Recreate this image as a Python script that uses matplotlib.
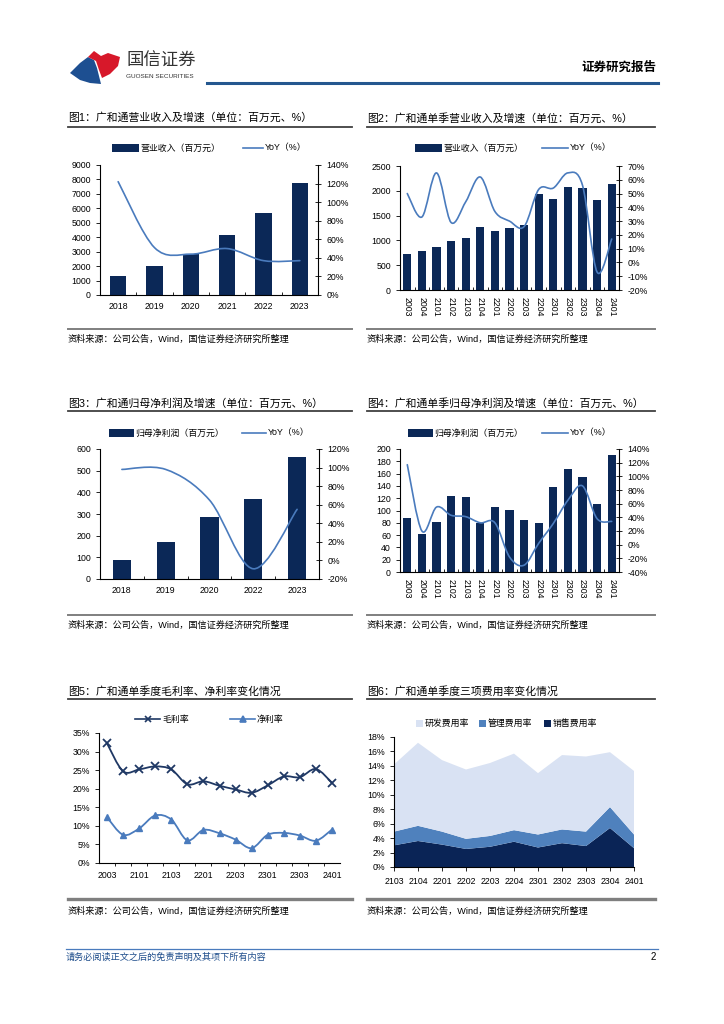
import numpy as np
import matplotlib
matplotlib.use('Agg')
import matplotlib.pyplot as plt
from matplotlib.path import Path
from matplotlib.patches import PathPatch, Rectangle, Polygon
from matplotlib.lines import Line2D

plt.rcParams['font.family'] = ['Liberation Sans', 'Noto Sans CJK SC', 'DejaVu Sans']
plt.rcParams['axes.linewidth'] = 0.8

# ---- data ----
years1 = ['2018', '2019', '2020', '2021', '2022', '2023']
revenue = [1300, 1980, 2820, 4180, 5700, 7780]
revenue_yoy = [122, 51, 44, 50, 37, 37]

quarters = ['2003', '2004', '2101', '2102', '2103', '2104', '2201', '2202',
            '2203', '2204', '2301', '2302', '2303', '2304', '2401']
q_revenue = [720, 790, 870, 980, 1040, 1280, 1190, 1250, 1320, 1940, 1840,
             2070, 2060, 1820, 2140]
q_revenue_yoy = [50, 33, 65, 29, 44, 62, 37, 30, 26, 53, 54, 65, 56, -7, 17]

years3 = ['2018', '2019', '2020', '2022', '2023']
profit = [88, 172, 287, 368, 565]
profit_yoy = [98, 98, 65, -9, 55]

q_profit = [88, 61, 82, 124, 122, 80, 106, 101, 84, 80, 138, 167, 154, 110, 190]
q_profit_yoy = [117, 20, 55, 43, 41, 32, 32, -18, -30, 2, 31, 65, 86, 38, 34]

gross_margin = [32.2, 24.7, 25.2, 26.0, 25.2, 21.2, 22.0, 20.8, 19.8, 18.9,
                20.9, 23.3, 23.1, 25.3, 21.6]
net_margin = [12.3, 7.6, 9.3, 12.8, 11.7, 6.1, 8.9, 8.0, 6.3, 4.0, 7.6, 8.1,
              7.4, 6.0, 9.0]

q6 = ['2103', '2104', '2201', '2202', '2203', '2204', '2301', '2302', '2303',
      '2304', '2401']
sales_rate = [3.0, 3.6, 3.1, 2.5, 2.8, 3.5, 2.7, 3.3, 2.9, 5.4, 2.6]
admin_rate = [1.9, 2.1, 1.8, 1.4, 1.5, 1.6, 1.8, 1.9, 2.0, 2.9, 1.9]
rd_rate = [9.3, 11.5, 9.9, 9.6, 10.1, 10.6, 8.5, 10.3, 10.4, 7.6, 8.8]

BAR = '#0b2857'
LINE = '#4a7bbd'
LIGHT = '#d9e2f3'

W, H = 724, 1024
fig = plt.figure(figsize=(W / 100, H / 100), dpi=100)


def fx(px):
    return px / W


def fy(py):
    return 1 - py / H


def axes_at(l, t, r, b):
    return fig.add_axes([fx(l), fy(b), fx(r - l), (b - t) / H])


def hline(x0, x1, y, color, lw):
    fig.add_artist(Line2D([fx(x0), fx(x1)], [fy(y), fy(y)], color=color, lw=lw))


def smooth_path(xs, ys):
    pts = np.column_stack([xs, ys]).astype(float)
    n = len(pts)
    verts = [pts[0]]
    codes = [Path.MOVETO]
    for i in range(n - 1):
        p0 = pts[i - 1] if i > 0 else pts[i]
        p1, p2 = pts[i], pts[i + 1]
        p3 = pts[i + 2] if i + 2 < n else pts[i + 1]
        verts += [p1 + (p2 - p0) / 6, p2 - (p3 - p1) / 6, p2]
        codes += [Path.CURVE4] * 3
    return Path(verts, codes)


def smooth_line(ax, xs, ys, color, lw=1.2):
    ax.add_patch(PathPatch(smooth_path(xs, ys), fill=False, edgecolor=color,
                           lw=lw, capstyle='round', joinstyle='round'))


def panel_frame(x0, x1, title, ty, uy, by, sy, thick=False):
    fig.text(fx(x0), fy(ty), title, fontsize=7.8, va='center', ha='left')
    hline(x0, x1, uy, '#404040', 1.3)
    hline(x0, x1, by, '#7f7f7f', 2.4 if thick else 1.4)
    fig.text(fx(x0), fy(sy), '资料来源：公司公告，Wind，国信证券经济研究所整理',
             fontsize=6.6, va='center', ha='left')


def leg_bar(x0, x1, y, label, color=BAR):
    fig.add_artist(Rectangle((fx(x0), fy(y + 4)), fx(x1 - x0), 8 / H,
                             facecolor=color, edgecolor='none'))
    fig.text(fx(x1 + 1), fy(y), label, fontsize=6.4, va='center', ha='left')


def leg_line(x0, x1, y, label, color=LINE, marker=None, ms=5):
    fig.add_artist(Line2D([fx(x0), fx(x1)], [fy(y), fy(y)], color=color, lw=1.2))
    if marker:
        fig.add_artist(Line2D([fx((x0 + x1) / 2)], [fy(y)], color=color,
                              marker=marker, ms=ms, mew=1.2, lw=0))
    fig.text(fx(x1 + 2), fy(y), label, fontsize=6.4, va='center', ha='left')


def leg_square(x, y, label, color):
    fig.add_artist(Rectangle((fx(x), fy(y + 3.5)), fx(7), 7 / H,
                             facecolor=color, edgecolor='none'))
    fig.text(fx(x + 9), fy(y), label, fontsize=6.4, va='center', ha='left')


def bar_line(rect, cats, bars, yoy, ymax, ystep, rmin, rmax, rstep, width, rotate):
    ax = axes_at(*rect)
    x = np.arange(len(cats))
    ax.bar(x, bars, width=width, color=BAR, zorder=2)
    ax.set_xlim(-0.5, len(cats) - 0.5)
    ax.set_ylim(0, ymax)
    ax.set_yticks(np.arange(0, ymax + 1, ystep))
    ax.set_xticks(x)
    ax.set_xticklabels(cats, rotation=270 if rotate else 0)
    ax.set_xticks(np.arange(0.5, len(cats) - 1, 1), minor=True)
    ax.tick_params(axis='x', which='major', length=0, labelsize=6.3, pad=5)
    ax.tick_params(axis='x', which='minor', length=2.5, direction='in', width=0.6)
    ax.tick_params(axis='y', labelsize=6.3, length=3, width=0.6, direction='out')
    ax.spines['top'].set_visible(False)
    ax.spines['right'].set_visible(False)
    ax2 = ax.twinx()
    ax2.set_ylim(rmin, rmax)
    ax2.set_yticks(np.arange(rmin, rmax + 1, rstep))
    ax2.set_yticklabels([f'{v}%' for v in range(rmin, rmax + 1, rstep)])
    ax2.tick_params(axis='y', labelsize=6.3, length=5, width=0.6, direction='inout')
    ax2.spines['top'].set_visible(False)
    ax2.spines['left'].set_visible(False)
    ax2.spines['bottom'].set_visible(False)
    smooth_line(ax2, x, yoy, LINE)
    return ax, ax2


# ---- header ----
fig.add_artist(Polygon([(fx(70), fy(73)), (fx(80), fy(63)), (fx(88), fy(57)),
                        (fx(94), fy(60)), (fx(97), fy(68)), (fx(99), fy(76)),
                        (fx(101), fy(84)), (fx(90), fy(83)), (fx(80), fy(80))],
                       closed=True, facecolor='#1d4f91', edgecolor='none'))
fig.add_artist(Polygon([(fx(88), fy(57)), (fx(94), fy(51)), (fx(101), fy(56)),
                        (fx(108), fy(53)), (fx(120), fy(57)), (fx(118), fy(66)),
                        (fx(110), fy(74)), (fx(102), fy(78)), (fx(99), fy(70)),
                        (fx(96), fy(61))],
                       closed=True, facecolor='#d7182a', edgecolor='none'))
fig.text(fx(126), fy(61), '国信证券', fontsize=12.5, va='center', ha='left',
         color='#333333', family=['Noto Sans CJK SC'])
fig.text(fx(126), fy(77), 'GUOSEN SECURITIES', fontsize=4.6, va='center',
         ha='left', color='#333333')
hline(207, 658, 83, '#24578f', 2.2)
fig.text(fx(656), fy(68), '证券研究报告', fontsize=9, va='center', ha='right',
         weight='bold')

# ---- footer ----
hline(66, 658, 949, '#4a7bbd', 0.9)
fig.text(fx(66), fy(957), '请务必阅读正文之后的免责声明及其项下所有内容',
         fontsize=6.6, va='center', ha='left', style='italic', color='#1f4e8c')
fig.text(fx(656), fy(957), '2', fontsize=7, va='center', ha='right')

# ---- chart 1 ----
panel_frame(68, 352, '图1：广和通营业收入及增速（单位：百万元、%）', 118, 127, 329, 339)
bar_line((100, 165, 318, 295), years1, revenue, revenue_yoy, 9000, 1000,
         0, 140, 20, 0.45, False)
leg_bar(112, 139, 148, '营业收入（百万元）')
leg_line(243, 263, 148, 'YoY（%）')

# ---- chart 2 ----
panel_frame(367, 655, '图2：广和通单季营业收入及增速（单位：百万元、%）', 118, 127, 329, 339)
bar_line((400, 166, 619, 290), quarters, q_revenue, q_revenue_yoy, 2500, 500,
         -20, 70, 10, 0.57, True)
leg_bar(415, 442, 148, '营业收入（百万元）')
leg_line(542, 568, 148, 'YoY（%）')

# ---- chart 3 ----
panel_frame(68, 352, '图3：广和通归母净利润及增速（单位：百万元、%）', 403, 411, 615, 625)
bar_line((100, 449, 319, 579), years3, profit, profit_yoy, 600, 100,
         -20, 120, 20, 0.42, False)
leg_bar(109, 134, 433, '归母净利润（百万元）')
leg_line(242, 266, 433, 'YoY（%）')

# ---- chart 4 ----
panel_frame(367, 655, '图4：广和通单季归母净利润及增速（单位：百万元、%）', 403, 411, 615, 625)
bar_line((400, 449, 619, 572), quarters, q_profit, q_profit_yoy, 200, 20,
         -40, 140, 20, 0.55, True)
leg_bar(408, 433, 433, '归母净利润（百万元）')
leg_line(542, 568, 433, 'YoY（%）')

# ---- chart 5 ----
panel_frame(68, 352, '图5：广和通单季度毛利率、净利率变化情况', 691, 699, 899, 911, thick=True)
ax5 = axes_at(99, 733, 340, 863)
x5 = np.arange(len(quarters))
smooth_line(ax5, x5, gross_margin, '#1f3864', 1.3)
smooth_line(ax5, x5, net_margin, LINE, 1.3)
ax5.plot(x5, gross_margin, 'x', color='#1f3864', ms=5.5, mew=1.3)
ax5.plot(x5, net_margin, '^', color=LINE, ms=5)
ax5.set_xlim(-0.5, len(quarters) - 0.5)
ax5.set_ylim(0, 35)
ax5.set_yticks(np.arange(0, 36, 5))
ax5.set_yticklabels([f'{v}%' for v in range(0, 36, 5)])
ax5.set_xticks(x5[::2])
ax5.set_xticklabels(quarters[::2])
ax5.set_xticks(np.arange(0.5, len(quarters) - 1, 1), minor=True)
ax5.tick_params(axis='x', which='major', length=0, labelsize=6.3, pad=6)
ax5.tick_params(axis='x', which='minor', length=2.5, direction='out', width=0.6)
ax5.tick_params(axis='y', labelsize=6.3, length=3, width=0.6)
ax5.spines['top'].set_visible(False)
ax5.spines['right'].set_visible(False)
leg_line(135, 160, 719, '毛利率', color='#1f3864', marker='x')
leg_line(230, 255, 719, '净利率', color=LINE, marker='^', ms=4.5)

# ---- chart 6 ----
panel_frame(367, 655, '图6：广和通单季度三项费用率变化情况', 691, 699, 899, 911, thick=True)
ax6 = axes_at(394, 737, 634, 867)
x6 = np.arange(len(q6))
ax6.stackplot(x6, sales_rate, admin_rate, rd_rate,
              colors=['#0a2456', '#4f81bd', LIGHT], lw=0)
ax6.set_xlim(0, len(q6) - 1)
ax6.set_ylim(0, 18)
ax6.set_yticks(np.arange(0, 19, 2))
ax6.set_yticklabels([f'{v}%' for v in range(0, 19, 2)])
ax6.set_xticks(x6)
ax6.set_xticklabels(q6)
ax6.tick_params(axis='x', labelsize=6.3, length=3, width=0.6, pad=4)
ax6.tick_params(axis='y', labelsize=6.3, length=3, width=0.6)
ax6.spines['top'].set_visible(False)
ax6.spines['right'].set_visible(False)
leg_square(416, 723, '研发费用率', LIGHT)
leg_square(479, 723, '管理费用率', '#4f81bd')
leg_square(544, 723, '销售费用率', '#0a2456')

fig.savefig('out.png', dpi=100)
